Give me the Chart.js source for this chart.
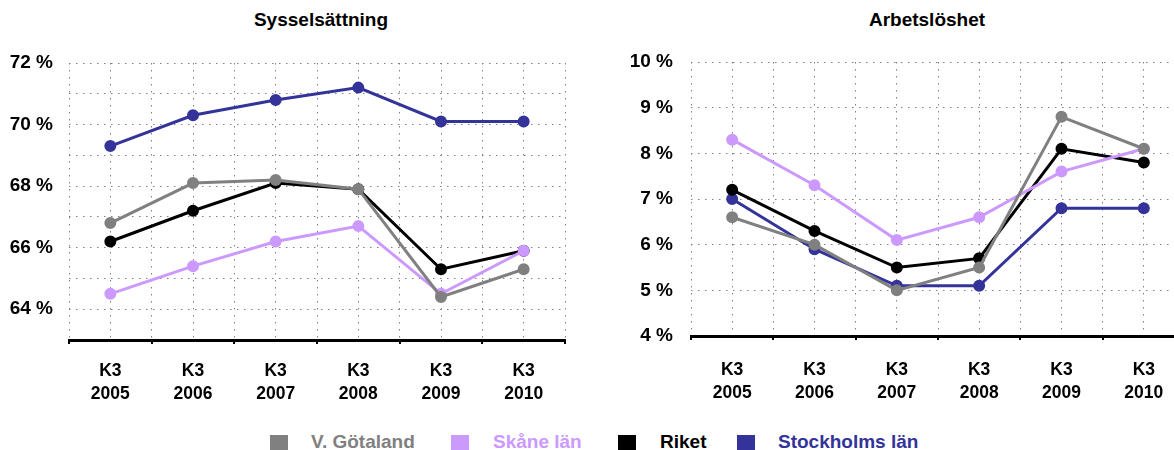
<!DOCTYPE html>
<html><head><meta charset="utf-8">
<script src="https://cdn.jsdelivr.net/npm/chart.js@4/dist/chart.umd.min.js"></script>
<style>
html,body{margin:0;padding:0;overflow:hidden;background:#fff;width:1174px;height:450px;font-family:"Liberation Sans",Arial,sans-serif}
canvas{position:absolute;top:0}
#c1{left:0}
#c2{left:600px}
.title{position:absolute;top:9px;font-weight:bold;font-size:19px;transform:translateX(-50%);white-space:nowrap;color:#000;line-height:22px}
.sw{position:absolute;top:435px;width:18px;height:15px}
.lt{position:absolute;top:431px;font-weight:bold;font-size:19px;line-height:22px;white-space:nowrap}
</style></head>
<body>
<div class="title" style="left:321px">Sysselsättning</div>
<div class="title" style="left:927px">Arbetslöshet</div>
<canvas id="c1" width="580" height="410"></canvas>
<canvas id="c2" width="600" height="410"></canvas>
<div id="legend"></div>
<script>
const categories = [["K3","2005"],["K3","2006"],["K3","2007"],["K3","2008"],["K3","2009"],["K3","2010"]];
const seriesNames = ["V. Götaland","Skåne län","Riket","Stockholms län"];
const seriesColors = ["#808080","#CC99FF","#000000","#333399"];
// Sysselsättning (%)
const gotalandEmp = [66.8, 68.1, 68.2, 67.9, 64.4, 65.3];
const skaneEmp    = [64.5, 65.4, 66.2, 66.7, 64.5, 65.9];
const riketEmp    = [66.2, 67.2, 68.1, 67.9, 65.3, 65.9];
const sthlmEmp    = [69.3, 70.3, 70.8, 71.2, 70.1, 70.1];
// Arbetslöshet (%)
const gotalandUnemp = [6.6, 6.0, 5.0, 5.5, 8.8, 8.1];
const skaneUnemp    = [8.3, 7.3, 6.1, 6.6, 7.6, 8.1];
const riketUnemp    = [7.2, 6.3, 5.5, 5.7, 8.1, 7.8];
const sthlmUnemp    = [7.0, 5.9, 5.1, 5.1, 6.8, 6.8];

const empTicks = {min:63, max:72, step:1, labelEvery:2};
const unempTicks = {min:4, max:10, step:1, labelEvery:1};

const FONT = "'Liberation Sans', Arial, sans-serif";
const DOT = [1.5, 5.5];

function makeChart(id, seriesData, tk, geo){
  const datasets = seriesData.map((d,i)=>({
    label: seriesNames[i], data: d,
    borderColor: seriesColors[i], backgroundColor: seriesColors[i],
    pointBackgroundColor: seriesColors[i], pointBorderColor: seriesColors[i],
    borderWidth: 3, pointRadius: 4.5, pointHoverRadius: 4.5, tension: 0,
    xAxisID: 'x', yAxisID: 'y'
  }));
  return new Chart(document.getElementById(id), {
    type: 'line',
    data: {labels: categories, datasets},
    options: {
      responsive: false, animation: false,
      layout: {padding: {left: 0, right: geo.right, top: geo.top, bottom: 0}},
      plugins: {legend: {display: false}, tooltip: {enabled: false}, title: {display: false}},
      scales: {
        x: {
          type: 'category', position: 'bottom', offset: true,
          grid: {display: true, drawOnChartArea: false, drawTicks: true, offset: true, tickLength: 4, color: '#000', lineWidth: 2},
          border: {display: true, color: '#000', width: 3},
          ticks: {color: '#000', padding: geo.xPad, maxRotation: 0, autoSkip: false,
                  font: {family: FONT, size: 17.5, weight: 'bold', lineHeight: 1.3}},
          afterFit: s => { s.height = geo.xHeight; }
        },
        xg: {
          type: 'linear', position: 'top', min: -0.5, max: 5.5,
          ticks: {display: false, stepSize: 0.5},
          grid: {display: true, drawTicks: false, color: '#808080', lineWidth: 1},
          border: {display: false, dash: DOT},
          afterFit: s => { s.height = 0; }
        },
        y: {
          type: 'linear', position: 'left', min: tk.min, max: tk.max,
          ticks: {stepSize: tk.step, color: '#000', padding: geo.yPad,
                  font: {family: FONT, size: 19, weight: 'bold'},
                  callback: v => (Math.round(v - tk.min) % tk.labelEvery === (tk.max - tk.min) % tk.labelEvery) ? v + ' %' : ''},
          grid: {display: true, drawTicks: false, color: '#808080', lineWidth: 1},
          border: {display: false, dash: DOT},
          afterFit: s => { s.width = geo.yWidth; }
        }
      }
    }
  });
}

makeChart('c1', [gotalandEmp, skaneEmp, riketEmp, sthlmEmp], empTicks,
  {right: 15, top: 63, xHeight: 70, xPad: 16, yPad: 16, yWidth: 69});
makeChart('c2', [gotalandUnemp, skaneUnemp, riketUnemp, sthlmUnemp], unempTicks,
  {right: 15, top: 62, xHeight: 74, xPad: 19, yPad: 18, yWidth: 91});

// legend
const legendPos = [[270,311],[451,493],[618,660],[737,778]];
const lg = document.getElementById('legend');
seriesNames.forEach((n,i)=>{
  const sw = document.createElement('div'); sw.className='sw';
  sw.style.left = legendPos[i][0]+'px'; sw.style.background = seriesColors[i];
  const t = document.createElement('div'); t.className='lt';
  t.style.left = legendPos[i][1]+'px'; t.style.color = seriesColors[i]; t.textContent = n;
  lg.appendChild(sw); lg.appendChild(t);
});
</script>
</body></html>
